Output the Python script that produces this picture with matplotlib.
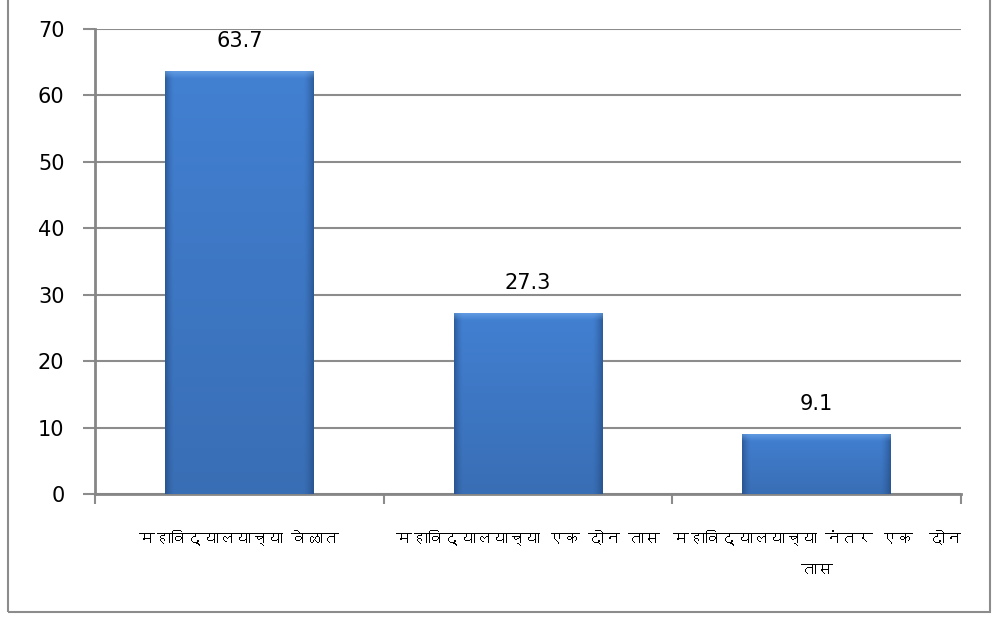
import numpy as np
import matplotlib
matplotlib.use("Agg")
import matplotlib.pyplot as plt
from matplotlib import font_manager
from matplotlib.ft2font import FT2Font
from matplotlib.patches import Rectangle

categories = [
    "महाविद्यालयाच्या वेळात",
    "महाविद्यालयाच्या एक दोन तास",
    "महाविद्यालयाच्या नंतर एक  दोन\nतास",
]
values = [63.7, 27.3, 9.1]
value_labels = ["63.7", "27.3", "9.1"]
yticks = [0, 10, 20, 30, 40, 50, 60, 70]

# find a font with Devanagari glyphs
deva_family = None
for fe in font_manager.fontManager.ttflist:
    try:
        cm = FT2Font(fe.fname).get_charmap()
        if 0x092E in cm and 0x093F in cm:
            deva_family = fe.name
            break
    except Exception:
        pass
label_families = [deva_family, "DejaVu Sans"] if deva_family else ["DejaVu Sans"]

W, H = 992, 619
fig = plt.figure(figsize=(W / 100, H / 100), dpi=100)
fig.patch.set_facecolor("white")

# outer chart border
fig.patches.append(Rectangle((8 / W, (H - 612) / H), (990 - 8) / W, 1.0,
                             transform=fig.transFigure, fill=False,
                             edgecolor="#8c8c8c", linewidth=1.5))

ax = fig.add_axes([95 / W, 1 - 494 / H, (961 - 95) / W, (494 - 29) / H])
n = len(values)
ax.set_xlim(0, n)
ax.set_ylim(0, 70)
px_per_unit = (494 - 29) / 70.0

# gradient image for bars
nx, ny = 200, 400
xs = np.linspace(0, 1, nx)
ys = np.linspace(0, 1, ny)
X, Y = np.meshgrid(xs, ys)
base = np.array([0x42, 0x80, 0xd2]) / 255.0
dark = np.array([0x1c, 0x3f, 0x72]) / 255.0
light = np.array([0x7a, 0xb2, 0xf0]) / 255.0
edge = np.clip(1 - np.minimum(X / 0.06, (1 - X) / 0.07), 0, 1) ** 1.5
vert = 0.86 + 0.14 * Y

bw = 0.515
bars = ax.bar(np.arange(n) + 0.5, values, width=bw, color="#3f7cc9", zorder=3,
              linewidth=0)
for b in bars:
    x0, y0 = b.get_x(), b.get_y()
    w, h = b.get_width(), b.get_height()
    img = base[None, None, :] * vert[..., None]
    img = img * (1 - edge[..., None] * 0.55) + dark[None, None, :] * (edge[..., None] * 0.55)
    bevel_px = 8.0
    bar_px = h * px_per_unit
    dist_top = (1 - Y) * bar_px  # pixels from top
    t = np.clip(1 - dist_top / bevel_px, 0, 1)
    img = img * (1 - t[..., None] * 0.6) + light[None, None, :] * (t[..., None] * 0.6)
    im = ax.imshow(img, extent=(x0, x0 + w, y0, y0 + h), origin="lower",
                   aspect="auto", zorder=4, interpolation="bilinear")
    im.set_clip_path(b)

for i, (v, lab) in enumerate(zip(values, value_labels)):
    ax.annotate(lab, (i + 0.5, v), xytext=(0, 14), textcoords="offset points",
                ha="center", va="bottom", fontsize=15, color="black", zorder=5)

ax.set_xlim(0, n)
ax.set_ylim(0, 70)
ax.set_yticks(yticks)
ax.set_yticklabels([str(t) for t in yticks], fontsize=15)
ax.yaxis.grid(True, color="#8c8c8c", linewidth=1.5, zorder=0)
ax.set_axisbelow(True)

# x ticks at category boundaries
ax.set_xticks(np.arange(n + 1))
ax.set_xticklabels([""] * (n + 1))
ax.set_xticks(np.arange(n) + 0.5, minor=True)
ax.set_xticklabels(categories, minor=True, fontsize=11.5, family=label_families,
                   linespacing=2.6)
ax.tick_params(axis="x", which="minor", length=0, pad=26)
ax.tick_params(axis="x", which="major", length=7, width=1.5, color="#8c8c8c")
ax.tick_params(axis="y", length=9, width=1.5, color="#8c8c8c", pad=13)

for s in ["top", "right"]:
    ax.spines[s].set_visible(False)
for s in ["left", "bottom"]:
    ax.spines[s].set_color("#868686")
    ax.spines[s].set_linewidth(2)

fig.savefig("out.png", dpi=100, facecolor="white")
